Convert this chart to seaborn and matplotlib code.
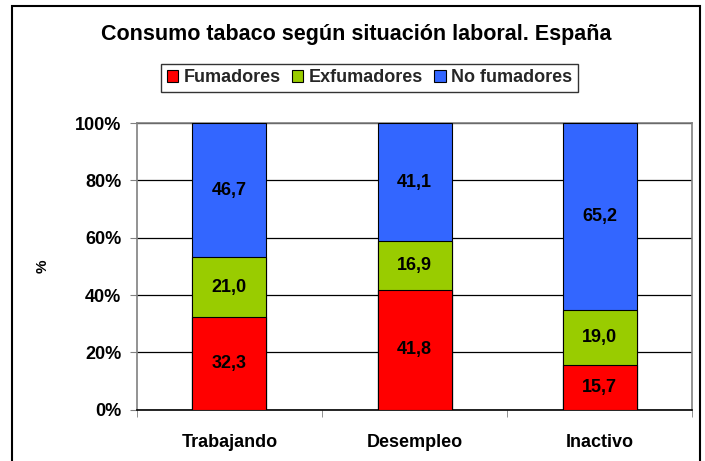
import pandas as pd
import matplotlib.pyplot as plt
import seaborn as sns
from matplotlib.patches import Patch, Rectangle
from matplotlib.ticker import FixedLocator, PercentFormatter

# Data (percent of each labour situation)
situaciones = ['Trabajando', 'Desempleo', 'Inactivo']
fumadores = [32.3, 41.8, 15.7]
exfumadores = [21.0, 16.9, 19.0]
no_fumadores = [46.7, 41.1, 65.2]

series = ['Fumadores', 'Exfumadores', 'No fumadores']
colores = ['#FF0000', '#99CC00', '#3366FF']

sns.set_style('white')
plt.rcParams['font.family'] = ['Liberation Sans', 'DejaVu Sans']
plt.rcParams['font.weight'] = 'bold'

df = pd.DataFrame({'Situacion': situaciones,
                   'Fumadores': fumadores,
                   'Exfumadores': exfumadores,
                   'No fumadores': no_fumadores})

# 100% stacked: normalise each row, then cumulative tops
vals = df[series]
pct = vals.div(vals.sum(axis=1), axis=0) * 100
tops = pct.cumsum(axis=1)

fig = plt.figure(figsize=(7.05, 4.61), dpi=100)
ax = fig.add_axes([0.194, 0.111, 0.788, 0.622])

# draw from the tallest stack down so each segment sits on the one below
for i in reversed(range(len(series))):
    sns.barplot(x=df['Situacion'], y=tops[series[i]], color=colores[i],
                width=0.4, edgecolor='black', linewidth=0.8,
                saturation=1, errorbar=None, ax=ax, zorder=3)

# value labels in the middle of each segment
bottoms = tops - pct
for j in range(len(situaciones)):
    for s in series:
        mid = bottoms.loc[j, s] + pct.loc[j, s] / 2
        ax.text(j, mid, f"{vals.loc[j, s]:.1f}".replace('.', ','),
                ha='center', va='center', fontsize=13, fontweight='bold',
                color='black', zorder=5)

ax.set_ylim(0, 100)
ax.set_xlim(-0.5, 2.5)
ax.set_yticks(range(0, 101, 20))
ax.yaxis.set_major_formatter(PercentFormatter(decimals=0))
ax.yaxis.grid(True, color='black', linewidth=0.9, zorder=0)
ax.set_axisbelow(True)

ax.tick_params(axis='y', left=True, length=5, color='#808080', labelsize=13,
               pad=6, labelcolor='black')
ax.tick_params(axis='x', bottom=False, labelsize=13, pad=14, labelcolor='black')
ax.xaxis.set_minor_locator(FixedLocator([-0.5, 0.5, 1.5, 2.5]))
ax.tick_params(axis='x', which='minor', bottom=True, length=5, color='#808080')

for side in ['left', 'right', 'top']:
    ax.spines[side].set_color('#808080')
    ax.spines[side].set_linewidth(1.2)
ax.spines['bottom'].set_color('black')
ax.spines['bottom'].set_linewidth(1.2)

ax.set_xlabel('')
ax.set_ylabel('%', fontsize=11, fontweight='bold', labelpad=18, color='black')

fig.text(0.505, 0.925, 'Consumo tabaco según situación laboral. España',
         ha='center', va='center', fontsize=15.5, fontweight='bold', color='black')

handles = [Patch(facecolor=c, edgecolor='black', linewidth=0.8) for c in colores]
leg = fig.legend(handles, series, loc='center', bbox_to_anchor=(0.524, 0.831),
                 ncol=3, fontsize=13, frameon=True, fancybox=False,
                 handlelength=0.65, handleheight=0.65, handletextpad=0.3,
                 columnspacing=0.6, borderpad=0.3, edgecolor='black')
leg.get_frame().set_linewidth(1.0)

# outer chart border
fig.add_artist(Rectangle((0.017, -0.02), 0.976, 1.007, transform=fig.transFigure,
                         fill=False, edgecolor='black', linewidth=1.5))

plt.savefig('out.png', dpi=100)
plt.close()
